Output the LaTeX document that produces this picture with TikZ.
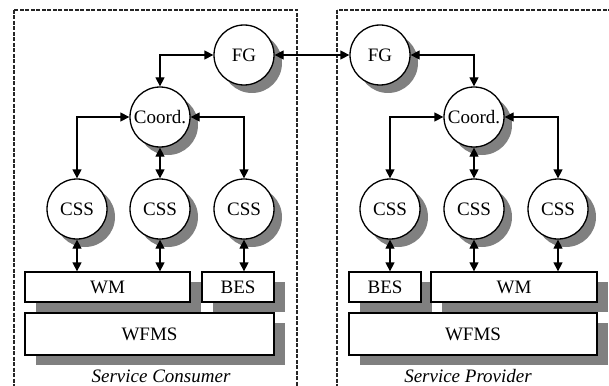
\documentclass[tikz,border=0pt]{standalone}
\usepackage{fontspec}
\setmainfont{Liberation Serif}
\usetikzlibrary{arrows.meta,shadows}

\begin{document}
\begin{tikzpicture}[x=1pt, y=-1pt, font=\fontsize{19}{21}\selectfont]

\tikzstyle{frame}=[draw=black!85, line width=1.4pt, dash pattern=on 4pt off 1.5pt]
\tikzstyle{comp}=[circle, draw, fill=white, line width=1.3pt, minimum size=60pt, inner sep=0pt,
  drop shadow={shadow xshift=8pt, shadow yshift=-8pt, fill=black!50, opacity=1}]
\tikzstyle{layer}=[rectangle, draw, fill=white, line width=1.3pt, inner sep=0pt, text centered,
  drop shadow={shadow xshift=11pt, shadow yshift=-10pt, fill=black!50, opacity=1}]
\tikzstyle{biarrow}=[{Triangle[length=9pt,width=9pt]}-{Triangle[length=9pt,width=9pt]}, line width=1.3pt]
\tikzstyle{side}=[font=\fontsize{19}{21}\selectfont\itshape, anchor=base]

\useasboundingbox (0,0) rectangle (609,385);

\draw [frame] (14,10) rectangle (297,400);
\draw [frame] (337,10) rectangle (640,400);

% consumer side
\node (wfmsL) [layer, minimum width=249pt, minimum height=42pt] at (149.5,334) {WFMS};
\node (wmL) [layer, minimum width=165pt, minimum height=30pt] at (107.5,287) {WM};
\node (besL) [layer, minimum width=72pt, minimum height=30pt] at (238,287) {BES};

\node (fgL) [comp] at (244,55) {FG};
\node (coordL) [comp] at (160,117) {Coord.};
\node (cssL1) [comp] at (77,209) {CSS};
\node (cssL2) [comp] at (160,209) {CSS};
\node (cssL3) [comp] at (244,209) {CSS};

% provider side
\node (wfmsR) [layer, minimum width=248pt, minimum height=42pt] at (473,334) {WFMS};
\node (besR) [layer, minimum width=72pt, minimum height=30pt] at (385,287) {BES};
\node (wmR) [layer, minimum width=166pt, minimum height=30pt] at (514,287) {WM};

\node (fgR) [comp] at (380,55) {FG};
\node (coordR) [comp] at (474,117) {Coord.};
\node (cssR1) [comp] at (390,209) {CSS};
\node (cssR2) [comp] at (474,209) {CSS};
\node (cssR3) [comp] at (558,209) {CSS};

\draw [biarrow] (fgL) -- (fgR);

\draw [biarrow] (coordL) |- (fgL);
\draw [biarrow] (coordL) -| (cssL1);
\draw [biarrow] (coordL) -- (cssL2);
\draw [biarrow] (coordL) -| (cssL3);
\draw [biarrow] (cssL1) -- (cssL1 |- wmL.north);
\draw [biarrow] (cssL2) -- (cssL2 |- wmL.north);
\draw [biarrow] (cssL3) -- (cssL3 |- besL.north);

\draw [biarrow] (fgR) -| (coordR);
\draw [biarrow] (coordR) -| (cssR1);
\draw [biarrow] (coordR) -- (cssR2);
\draw [biarrow] (coordR) -| (cssR3);
\draw [biarrow] (cssR1) -- (cssR1 |- besR.north);
\draw [biarrow] (cssR2) -- (cssR2 |- wmR.north);
\draw [biarrow] (cssR3) -- (cssR3 |- wmR.north);

\node (consumer) [side] at (161,382) {Service Consumer};
\node (provider) [side] at (468,382) {Service Provider};

\end{tikzpicture}
\end{document}
